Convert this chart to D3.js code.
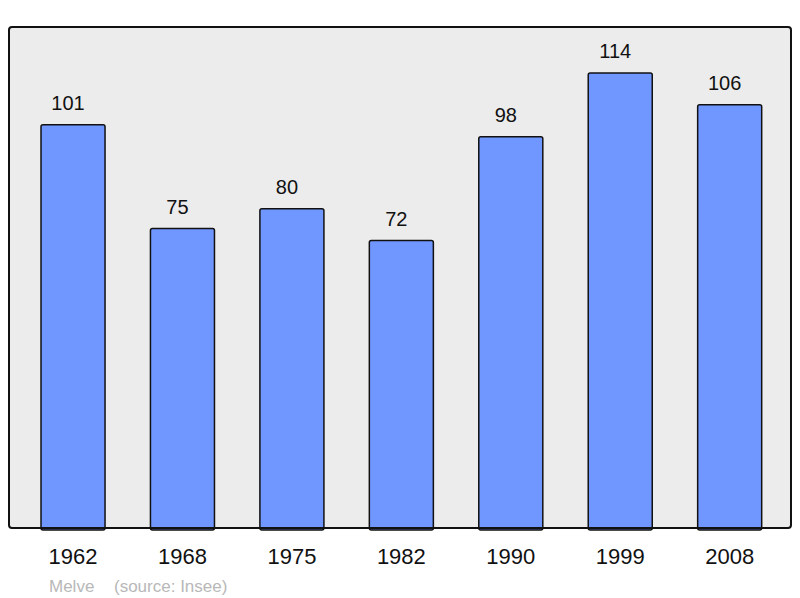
<!DOCTYPE html>
<html>
<head>
<meta charset="utf-8">
<script src="https://cdn.jsdelivr.net/npm/d3@7"></script>
<style>
  body { margin: 0; background: #ffffff; }
  svg { display: block; font-family: "Liberation Sans", Arial, sans-serif; }
</style>
</head>
<body>
<div id="chart"></div>
<script>
// 数据
const years = ['1962', '1968', '1975', '1982', '1990', '1999', '2008'];
const population = [101, 75, 80, 72, 98, 114, 106];
const commune = 'Melve';
const sourceText = '(source: Insee)';

const width = 800;
const height = 598;
const plot = { left: 9, right: 791, top: 27, bottom: 528 };

const svg = d3.select('#chart').append('svg')
    .attr('width', width)
    .attr('height', height);

// 比例尺
const xScale = d3.scaleBand()
    .domain(years)
    .range([18.3, 784.4])
    .paddingInner(0.415)
    .paddingOuter(0.2075);

const yScale = d3.scaleLinear()
    .domain([0, 125])
    .range([plot.bottom, 29]);

// 背景
svg.append('rect')
    .attr('x', plot.left)
    .attr('y', plot.top)
    .attr('width', plot.right - plot.left)
    .attr('height', plot.bottom - plot.top)
    .attr('rx', 3)
    .attr('fill', '#ececec');

// 柱子
svg.selectAll('rect.bar')
    .data(population)
    .enter()
    .append('rect')
    .attr('class', 'bar')
    .attr('x', (d, i) => xScale(years[i]))
    .attr('y', d => yScale(d))
    .attr('width', xScale.bandwidth())
    .attr('height', d => yScale(0) - yScale(d) + 2)
    .attr('rx', 2)
    .attr('fill', '#7096ff')
    .attr('stroke', '#111')
    .attr('stroke-width', 1.5);

// 数值标签（原图略微偏左）
svg.selectAll('text.value')
    .data(population)
    .enter()
    .append('text')
    .attr('class', 'value')
    .text(d => d)
    .attr('x', (d, i) => xScale(years[i]) + xScale.bandwidth() / 2 - 5)
    .attr('y', d => yScale(d) - 15)
    .attr('text-anchor', 'middle')
    .attr('font-size', '20px')
    .attr('fill', '#111');

// 边框
svg.append('rect')
    .attr('x', plot.left)
    .attr('y', plot.top)
    .attr('width', plot.right - plot.left)
    .attr('height', plot.bottom - plot.top)
    .attr('rx', 3)
    .attr('fill', 'none')
    .attr('stroke', '#111')
    .attr('stroke-width', 2);

// x轴标签
const xAxis = d3.axisBottom(xScale).tickSize(0).tickPadding(0);
const gx = svg.append('g')
    .attr('transform', `translate(0,${plot.bottom})`)
    .call(xAxis);
gx.select('.domain').remove();
gx.selectAll('text')
    .attr('y', 36)
    .attr('dy', null)
    .attr('font-size', '22px')
    .attr('font-family', '"Liberation Sans", Arial, sans-serif')
    .attr('fill', '#111');

// 来源
svg.append('text')
    .text(commune)
    .attr('x', 49)
    .attr('y', 592)
    .attr('font-size', '17px')
    .attr('fill', '#b8b8b8');
svg.append('text')
    .text(sourceText)
    .attr('x', 114)
    .attr('y', 592)
    .attr('font-size', '17px')
    .attr('fill', '#b8b8b8');
</script>
</body>
</html>
